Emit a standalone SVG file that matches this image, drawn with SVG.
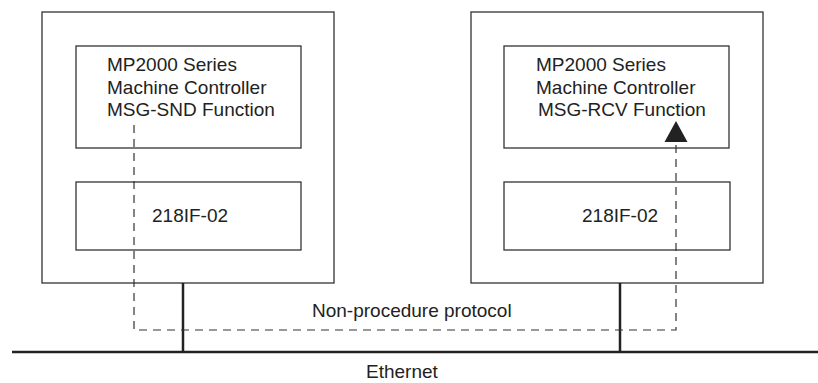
<svg xmlns="http://www.w3.org/2000/svg" width="818" height="383" viewBox="0 0 818 383">
<defs>
<style>
.box{fill:#fff;stroke:#333;stroke-width:1.3}
.t{font-family:"Liberation Sans",Arial,sans-serif;font-size:19px;fill:#222}
.bus{stroke:#222;stroke-width:2.5;fill:none}
.dash{stroke:#333;stroke-width:1.2;fill:none;stroke-dasharray:8 6}
</style>
</defs>
<rect width="818" height="383" fill="#fff"/>
<g id="stationA">
<rect class="box" x="42" y="12" width="292" height="271"/>
</g>
<g id="controllerA">
<rect class="box" x="76" y="46" width="225" height="102"/>
<text class="t" x="107" y="70.5">MP2000 Series</text>
<text class="t" x="107" y="93.5">Machine Controller</text>
<text class="t" x="107" y="116">MSG-SND Function</text>
</g>
<g id="ifA">
<rect class="box" x="76" y="182" width="225" height="68"/>
<text class="t" x="152" y="222">218IF-02</text>
</g>
<g id="stationB">
<rect class="box" x="471" y="12" width="292" height="271"/>
</g>
<g id="controllerB">
<rect class="box" x="504" y="46" width="225" height="102"/>
<text class="t" x="536" y="70.5">MP2000 Series</text>
<text class="t" x="536" y="93.5">Machine Controller</text>
<text class="t" x="538" y="116">MSG-RCV Function</text>
</g>
<g id="ifB">
<rect class="box" x="504" y="182" width="226" height="68"/>
<text class="t" x="582" y="222">218IF-02</text>
</g>
<g id="ethernet">
<line class="bus" x1="12" y1="352" x2="818" y2="352"/>
<text class="t" x="366" y="378">Ethernet</text>
</g>
<g id="connectors">
<line class="bus" x1="183" y1="283" x2="183" y2="352"/>
<line class="bus" x1="620" y1="283" x2="620" y2="352"/>
<polyline class="dash" points="134,125 134,330 676,330 676,142"/>
<polygon points="676,121 664.5,142 687.5,142" fill="#222"/>
<text class="t" x="312" y="317">Non-procedure protocol</text>
</g>
</svg>
